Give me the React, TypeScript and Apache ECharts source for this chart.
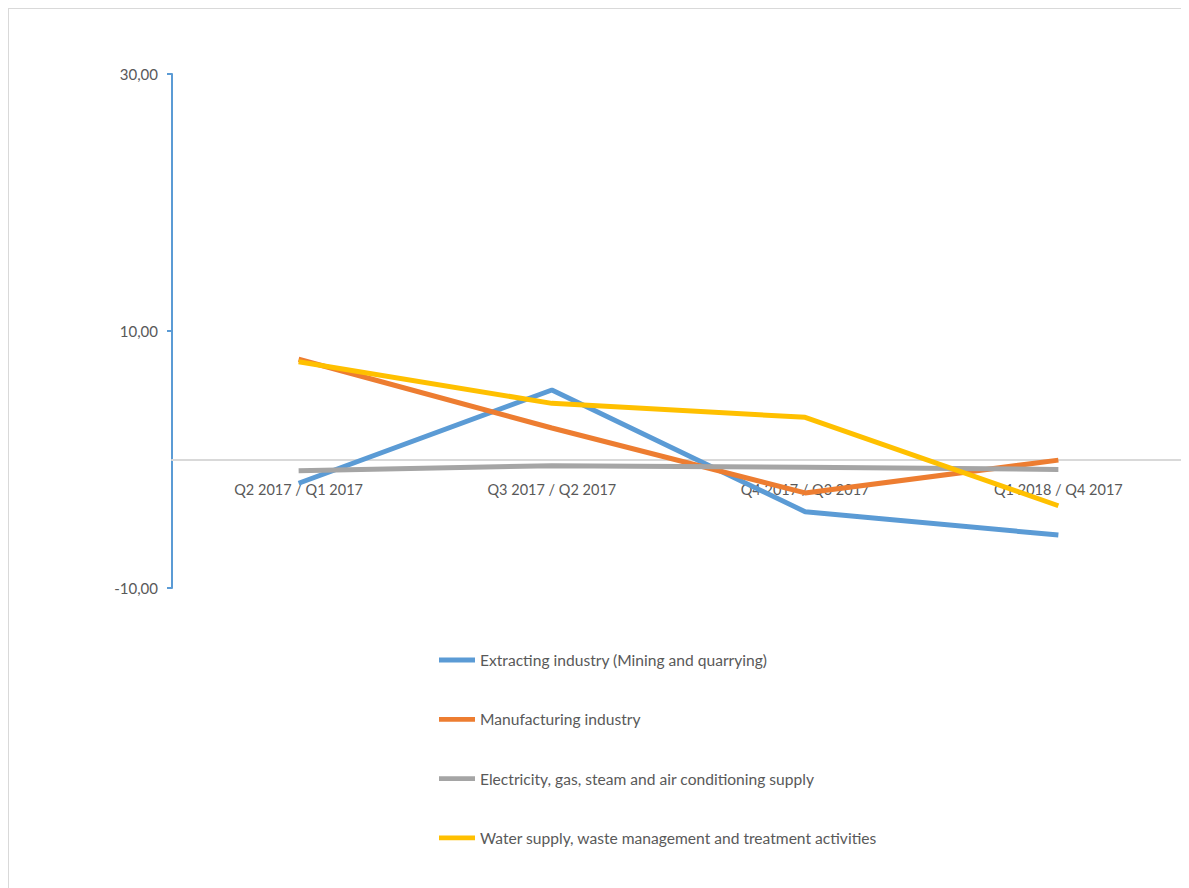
import React, { useEffect, useRef } from "react";
import * as echarts from "echarts";

const categories = ["Q2 2017 / Q1 2017", "Q3 2017 / Q2 2017", "Q4 2017 / Q3 2017", "Q1 2018 / Q4 2017"];
const seriesNames = [
  "Extracting industry (Mining and quarrying)",
  "Manufacturing industry",
  "Electricity, gas, steam and air conditioning supply",
  "Water supply, waste management and treatment activities",
];
const extracting = [-1.85, 5.41, -4.06, -5.88];
const manufacturing = [7.8, 2.45, -2.6, -0.05];
const electricity = [-0.87, -0.48, -0.6, -0.77];
const water = [7.6, 4.37, 3.28, -3.6];
const colors = ["#5b9bd5", "#ed7d31", "#a5a5a5", "#ffc000"];

const FONT = "Lato, 'Noto Sans', sans-serif";

export default function App() {
  const ref = useRef<HTMLDivElement>(null);
  useEffect(() => {
    if (!ref.current) return;
    const chart = echarts.init(ref.current, undefined, { renderer: "svg" });
    const data = [extracting, manufacturing, electricity, water];
    chart.setOption({
      animation: false,
      backgroundColor: "#ffffff",
      textStyle: { fontFamily: FONT },
      grid: { left: 163, right: 2, top: 65, bottom: 300, containLabel: false },
      legend: {
        orient: "vertical",
        left: 425,
        top: 638,
        padding: 5,
        itemWidth: 36,
        itemHeight: 14,
        itemGap: 43.3,
        icon: "path://M0,4.6 L36,4.6 L36,9.4 L0,9.4 Z",
        textStyle: { color: "#595959", fontSize: 15.6, fontFamily: FONT },
        data: seriesNames,
      },
      xAxis: {
        type: "category",
        data: categories,
        boundaryGap: true,
        axisLine: { onZero: true, lineStyle: { color: "#d9d9d9", width: 2 } },
        axisTick: { show: false },
        axisLabel: { color: "#595959", fontSize: 14.5, margin: -106, fontFamily: FONT },
        splitLine: { show: false },
      },
      yAxis: {
        type: "value",
        min: -10,
        max: 30,
        interval: 20,
        axisLine: { show: true, lineStyle: { color: "#5b9bd5", width: 2 } },
        axisTick: { show: true, length: 5, lineStyle: { color: "#5b9bd5", width: 2 } },
        axisLabel: {
          color: "#595959",
          fontSize: 15,
          margin: 14,
          fontFamily: FONT,
          formatter: (v: number) => v.toFixed(2).replace(".", ","),
        },
        splitLine: { show: false },
      },
      series: data.map((d, i) => ({
        name: seriesNames[i],
        type: "line",
        data: d,
        symbol: "none",
        showSymbol: false,
        lineStyle: { color: colors[i], width: 5 },
        itemStyle: { color: colors[i] },
        z: 2 + i,
      })),
    });
    return () => chart.dispose();
  }, []);
  return (
    <div
      style={{
        width: 1180,
        height: 880,
        boxSizing: "border-box",
        borderTop: "1px solid #d9d9d9",
        borderLeft: "1px solid #d9d9d9",
        borderRight: "1px solid #d9d9d9",
        background: "#fff",
      }}
    >
      <div ref={ref} style={{ width: 1178, height: 879 }} />
    </div>
  );
}
